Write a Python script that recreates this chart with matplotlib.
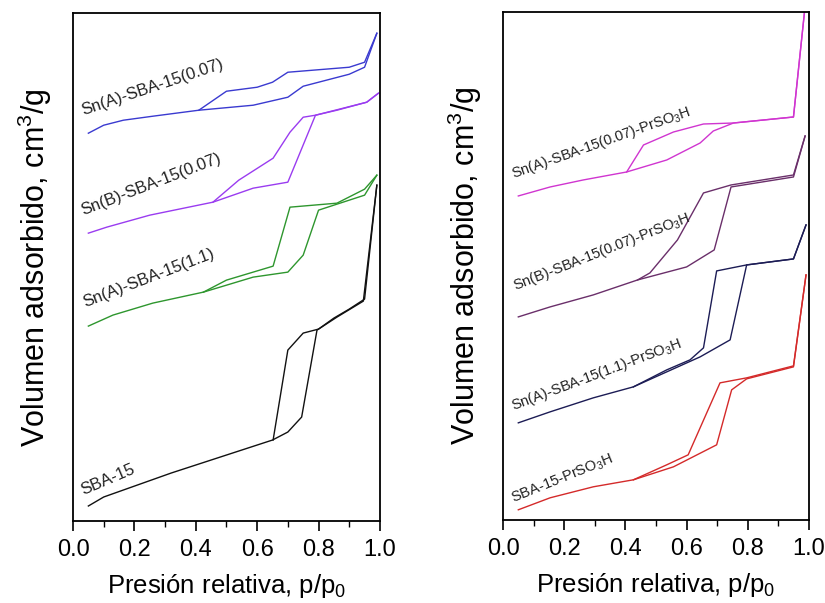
import matplotlib
matplotlib.use("Agg")
import matplotlib.pyplot as plt
from matplotlib.ticker import MultipleLocator

plt.rcParams['font.family'] = ['Liberation Sans', 'DejaVu Sans']
plt.rcParams['mathtext.fontset'] = 'custom'
plt.rcParams['mathtext.rm'] = 'Liberation Sans'
plt.rcParams['mathtext.it'] = 'Liberation Sans:italic'

# ---- left panel: isotherms (adsorption / desorption), arbitrary offsets ----
sba_ads_x = [0.05, 0.10, 0.21, 0.32, 0.42, 0.53, 0.60, 0.65, 0.70, 0.745, 0.795, 0.86, 0.946, 0.99]
sba_ads_y = [15, 24, 36, 48, 58, 69, 76, 81, 89, 104, 191, 204, 220, 336]
sba_des_x = [0.99, 0.95, 0.90, 0.85, 0.80, 0.75, 0.70, 0.652]
sba_des_y = [336, 222, 212, 203, 192, 188, 171, 81]

snA11_ads_x = [0.05, 0.13, 0.26, 0.425, 0.587, 0.70, 0.75, 0.80, 0.95, 0.99]
snA11_ads_y = [195, 206, 218, 229, 244, 249, 266, 311, 326, 346]
snA11_des_x = [0.99, 0.95, 0.86, 0.707, 0.652, 0.50, 0.425]
snA11_des_y = [346, 332, 318, 314, 255, 241, 229]

snB007_ads_x = [0.05, 0.11, 0.25, 0.456, 0.587, 0.70, 0.79, 0.957, 0.995]
snB007_ads_y = [288, 294, 306, 319, 333, 339, 406, 419, 428]
snB007_des_x = [0.995, 0.957, 0.86, 0.79, 0.75, 0.707, 0.652, 0.54, 0.456]
snB007_des_y = [428, 419, 411, 406, 404, 389, 363, 341, 319]

snA007_ads_x = [0.05, 0.10, 0.164, 0.26, 0.41, 0.587, 0.70, 0.75, 0.90, 0.95, 0.99]
snA007_ads_y = [388, 396, 401, 405, 411, 416, 424, 435, 447, 454, 488]
snA007_des_x = [0.99, 0.95, 0.90, 0.70, 0.65, 0.60, 0.50, 0.41]
snA007_des_y = [488, 459, 454, 449, 439, 434, 430, 411]

# ---- right panel: PrSO3H functionalised samples ----
pr_sba_ads_x = [0.05, 0.154, 0.295, 0.426, 0.557, 0.698, 0.747, 0.796, 0.949, 0.99]
pr_sba_ads_y = [10, 22, 33, 40, 53, 75, 130, 141, 153, 245]
pr_sba_des_x = [0.99, 0.949, 0.796, 0.709, 0.605, 0.535, 0.426]
pr_sba_des_y = [245, 154, 142, 137, 65, 55, 40]

pr_snA11_ads_x = [0.05, 0.154, 0.295, 0.426, 0.644, 0.742, 0.796, 0.949, 0.99]
pr_snA11_ads_y = [97, 108, 122, 133, 163, 180, 255, 261, 295]
pr_snA11_des_x = [0.99, 0.949, 0.796, 0.698, 0.655, 0.611, 0.535, 0.426]
pr_snA11_des_y = [295, 261, 255, 249, 172, 160, 150, 133]

pr_snB007_ads_x = [0.05, 0.154, 0.295, 0.44, 0.60, 0.69, 0.745, 0.949, 0.987]
pr_snB007_ads_y = [203, 213, 225, 240, 253, 270, 333, 343, 384]
pr_snB007_des_x = [0.987, 0.949, 0.745, 0.655, 0.57, 0.48, 0.44]
pr_snB007_des_y = [384, 345, 335, 327, 280, 247, 240]

pr_snA007_ads_x = [0.05, 0.154, 0.262, 0.404, 0.535, 0.644, 0.687, 0.753, 0.949, 0.985]
pr_snA007_ads_y = [324, 333, 340, 348, 360, 377, 389, 397, 403, 508]
pr_snA007_des_x = [0.985, 0.949, 0.753, 0.655, 0.557, 0.459, 0.404]
pr_snA007_des_y = [508, 403, 397, 396, 388, 375, 348]

left_series = [
    (sba_ads_x, sba_ads_y, sba_des_x, sba_des_y, '#111111', 'SBA-15', (0.033, 26), 23, 12),
    (snA11_ads_x, snA11_ads_y, snA11_des_x, snA11_des_y, '#2e962e', 'Sn(A)-SBA-15(1.1)', (0.04, 214), 21, 12),
    (snB007_ads_x, snB007_ads_y, snB007_des_x, snB007_des_y, '#9a3cf0', 'Sn(B)-SBA-15(0.07)', (0.033, 306), 21, 12),
    (snA007_ads_x, snA007_ads_y, snA007_des_x, snA007_des_y, '#3a3ad0', 'Sn(A)-SBA-15(0.07)', (0.033, 406), 18.5, 12),
]
right_series = [
    (pr_sba_ads_x, pr_sba_ads_y, pr_sba_des_x, pr_sba_des_y, '#d42a2a', 'SBA-15-PrSO$_3$H', (0.034, 17), 22, 10.5),
    (pr_snA11_ads_x, pr_snA11_ads_y, pr_snA11_des_x, pr_snA11_des_y, '#1c1c55', 'Sn(A)-SBA-15(1.1)-PrSO$_3$H', (0.034, 110), 20.5, 10.5),
    (pr_snB007_ads_x, pr_snB007_ads_y, pr_snB007_des_x, pr_snB007_des_y, '#6a2f6a', 'Sn(B)-SBA-15(0.07)-PrSO$_3$H', (0.040, 230), 21.5, 10.5),
    (pr_snA007_ads_x, pr_snA007_ads_y, pr_snA007_des_x, pr_snA007_des_y, '#d035d0', 'Sn(A)-SBA-15(0.07)-PrSO$_3$H', (0.034, 342), 19.5, 10.5),
]

fig = plt.figure(figsize=(8.25, 6.03), dpi=100)
ax1 = fig.add_axes([0.0885, 0.136, 0.372, 0.842])
ax2 = fig.add_axes([0.6097, 0.138, 0.371, 0.842])

for ax, series in [(ax1, left_series), (ax2, right_series)]:
    for ax_x, ax_y, de_x, de_y, col, lab, pos, rot, fs in series:
        ax.plot(ax_x, ax_y, color=col, lw=1.0)
        ax.plot(de_x, de_y, color=col, lw=1.0)
        ax.text(pos[0], pos[1], lab, rotation=rot, rotation_mode='anchor',
                ha='left', va='baseline', fontsize=fs, color='#222222')

    ax.set_xlim(0, 1.0)
    ax.set_ylim(0, 508)
    ax.set_yticks([])
    ax.xaxis.set_major_locator(MultipleLocator(0.2))
    ax.xaxis.set_minor_locator(MultipleLocator(0.1))
    ax.tick_params(axis='x', which='major', direction='out', length=7, width=1.2,
                   labelsize=17, pad=6)
    ax.tick_params(axis='x', which='minor', direction='out', length=4, width=1.0)
    for s in ax.spines.values():
        s.set_linewidth(1.3)
    ax.set_xlabel('Presión relativa, p/p$_0$', fontsize=18.5, labelpad=8)
    ax.set_ylabel('Volumen adsorbido, cm$^3$/g', fontsize=22, labelpad=14)

fig.savefig('out.png', dpi=100)
